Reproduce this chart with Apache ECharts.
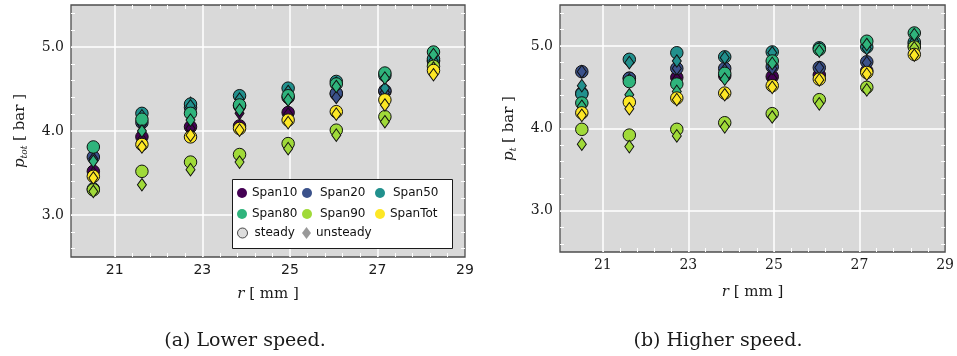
<!DOCTYPE html>
<html>
<head>
<meta charset="utf-8">
<script src="https://cdn.jsdelivr.net/npm/echarts@6/dist/echarts.min.js"></script>
<style>
  html, body { margin: 0; padding: 0; background: #ffffff; }
  #chart { width: 957px; height: 356px; }
</style>
</head>
<body>
<div id="chart"></div>
<script>
// Radial positions r [mm] of the measurement stations
const radius = [20.51, 21.62, 22.73, 23.85, 24.96, 26.06, 27.17, 28.28];

// Tick values
const xTickLabels = [21, 23, 25, 27, 29];
const yTickLabels = [3, 4, 5];

// Lower speed: total pressure p_tot [bar]
const lowSpan10Steady   = [3.52, 3.93, 4.05, 4.06, 4.22, 4.44, 4.47, 4.83];
const lowSpan10Unsteady = [3.50, 3.90, 4.03, 4.21, 4.20, 4.42, 4.44, 4.80];
const lowSpan20Steady   = [3.69, 4.10, 4.28, 4.30, 4.40, 4.45, 4.48, 4.84];
const lowSpan20Unsteady = [3.67, 4.08, 4.33, 4.28, 4.37, 4.40, 4.46, 4.82];
const lowSpan50Steady   = [3.31, 4.21, 4.32, 4.42, 4.51, 4.59, 4.66, 4.86];
const lowSpan50Unsteady = [3.30, 4.18, 4.30, 4.38, 4.47, 4.57, 4.51, 4.84];
const lowSpan80Steady   = [3.81, 4.14, 4.21, 4.31, 4.42, 4.56, 4.69, 4.94];
const lowSpan80Unsteady = [3.64, 4.00, 4.13, 4.25, 4.37, 4.53, 4.63, 4.91];
const lowSpan90Steady   = [3.30, 3.52, 3.63, 3.72, 3.85, 4.01, 4.17, 4.77];
const lowSpan90Unsteady = [3.28, 3.36, 3.54, 3.63, 3.79, 3.95, 4.11, 4.75];
const lowSpanTotSteady   = [3.46, 3.84, 3.93, 4.03, 4.13, 4.23, 4.37, 4.72];
const lowSpanTotUnsteady = [3.44, 3.81, 3.95, 4.01, 4.10, 4.20, 4.31, 4.67];

// Higher speed: total pressure p_t [bar]
const highSpan10Steady   = [4.43, 4.61, 4.62, 4.64, 4.63, 4.65, 4.70, 5.00];
const highSpan10Unsteady = [4.45, 4.59, 4.60, 4.62, 4.61, 4.63, 4.68, 4.98];
const highSpan20Steady   = [4.69, 4.61, 4.73, 4.73, 4.75, 4.74, 4.81, 5.03];
const highSpan20Unsteady = [4.69, 4.59, 4.73, 4.71, 4.73, 4.74, 4.80, 5.02];
const highSpan50Steady   = [4.42, 4.84, 4.92, 4.87, 4.93, 4.98, 4.99, 5.05];
const highSpan50Unsteady = [4.52, 4.80, 4.82, 4.86, 4.92, 4.97, 4.97, 5.06];
const highSpan80Steady   = [4.31, 4.57, 4.54, 4.67, 4.82, 4.96, 5.06, 5.16];
const highSpan80Unsteady = [4.27, 4.41, 4.45, 4.60, 4.79, 4.94, 5.02, 5.14];
const highSpan90Steady   = [3.99, 3.92, 3.99, 4.07, 4.18, 4.35, 4.50, 4.99];
const highSpan90Unsteady = [3.81, 3.78, 3.91, 4.02, 4.14, 4.30, 4.47, 4.98];
const highSpanTotSteady   = [4.19, 4.32, 4.37, 4.43, 4.52, 4.60, 4.68, 4.90];
const highSpanTotUnsteady = [4.16, 4.24, 4.35, 4.41, 4.50, 4.59, 4.66, 4.89];

const spanNames = ['Span10', 'Span20', 'Span50', 'Span80', 'Span90', 'SpanTot'];
const spanColors = ['#440154', '#3b528b', '#21908d', '#2fb47c', '#a0da39', '#fde725'];

const lowSets = [
  [lowSpan10Steady, lowSpan10Unsteady], [lowSpan20Steady, lowSpan20Unsteady],
  [lowSpan50Steady, lowSpan50Unsteady], [lowSpan80Steady, lowSpan80Unsteady],
  [lowSpan90Steady, lowSpan90Unsteady], [lowSpanTotSteady, lowSpanTotUnsteady]
];
const highSets = [
  [highSpan10Steady, highSpan10Unsteady], [highSpan20Steady, highSpan20Unsteady],
  [highSpan50Steady, highSpan50Unsteady], [highSpan80Steady, highSpan80Unsteady],
  [highSpan90Steady, highSpan90Unsteady], [highSpanTotSteady, highSpanTotUnsteady]
];

// minor ticks: 5 subdivisions between the labelled ticks
function minorBetween(majors, step, lo, hi) {
  const out = [];
  const sub = step / 5;
  for (let v = majors[0] - step; v <= majors[majors.length - 1] + step + 1e-9; v += step) {
    for (let k = 1; k < 5; k++) {
      const m = Math.round((v + k * sub) * 1000) / 1000;
      if (m > lo && m < hi) out.push(m);
    }
  }
  return out;
}
const xMinor = minorBetween(xTickLabels, 2, 21, 29);
const yMinor = minorBetween(yTickLabels, 1, 2.5, 5.5);
const xSplit = xTickLabels.filter(v => v < 29);

const SERIF = 'DejaVu Serif';
const SANS = 'DejaVu Sans';
const GRID_BG = '#d9d9d9';
const FRAME = '#4d4d4d';

const grids = [
  { left: 71, top: 5, width: 394, height: 252 },
  { left: 560, top: 5, width: 387, height: 247 }
];

function xAxesFor(g, labelFont, nameGap) {
  const minorTick = (pos) => ({
    gridIndex: g, type: 'value', min: 20, max: 29, position: pos,
    axisLine: { show: false }, axisLabel: { show: false }, splitLine: { show: false },
    axisTick: { show: true, inside: true, length: 4, customValues: xMinor,
      lineStyle: { color: '#ffffff', width: 1 } }
  });
  return [
    {
      gridIndex: g, type: 'value', min: 20, max: 29, position: 'bottom',
      axisLine: { show: false },
      axisTick: { show: true, inside: true, length: 1, customValues: xSplit,
        lineStyle: { color: '#ffffff' } },
      axisLabel: { customValues: xTickLabels, fontFamily: labelFont, fontSize: 14,
        color: '#1a1a1a', margin: 6 },
      splitLine: { show: true, lineStyle: { color: '#ffffff', width: 1.5 } },
      name: '{r|r}{t| [ mm ]}', nameLocation: 'middle', nameGap: nameGap,
      nameTextStyle: { rich: {
        r: { fontFamily: SERIF, fontStyle: 'italic', fontSize: 15, color: '#1a1a1a' },
        t: { fontFamily: SERIF, fontSize: 15, color: '#1a1a1a' }
      } }
    },
    minorTick('bottom'),
    minorTick('top')
  ];
}

function yAxesFor(g, sub, nameGap) {
  const minorTick = (pos) => ({
    gridIndex: g, type: 'value', min: 2.5, max: 5.5, position: pos,
    axisLine: { show: false }, axisLabel: { show: false }, splitLine: { show: false },
    axisTick: { show: true, inside: true, length: 4, customValues: yMinor,
      lineStyle: { color: '#ffffff', width: 1 } }
  });
  return [
    {
      gridIndex: g, type: 'value', min: 2.5, max: 5.5, position: 'left',
      axisLine: { show: false },
      axisTick: { show: true, inside: true, length: 1, customValues: yTickLabels,
        lineStyle: { color: '#ffffff' } },
      axisLabel: { customValues: yTickLabels, fontFamily: SERIF, fontSize: 14,
        color: '#1a1a1a', margin: 7, formatter: v => Number(v).toFixed(1) },
      splitLine: { show: true, lineStyle: { color: '#ffffff', width: 1.5 } },
      name: '{p|p}{s|' + sub + '}{t| [ bar ]}', nameLocation: 'middle', nameRotate: 90,
      nameGap: nameGap,
      nameTextStyle: { rich: {
        p: { fontFamily: SERIF, fontStyle: 'italic', fontSize: 15, color: '#1a1a1a', lineHeight: 18 },
        s: { fontFamily: SERIF, fontStyle: 'italic', fontSize: 9, color: '#1a1a1a',
             lineHeight: 9, verticalAlign: 'bottom' },
        t: { fontFamily: SERIF, fontSize: 15, color: '#1a1a1a', lineHeight: 18 }
      } }
    },
    minorTick('left'),
    minorTick('right')
  ];
}

const xAxis = [].concat(xAxesFor(0, SANS, 30), xAxesFor(1, SERIF, 33));
const yAxis = [].concat(yAxesFor(0, 'tot', 42), yAxesFor(1, 't', 42));

function seriesFor(sets, g) {
  const out = [];
  sets.forEach((pair, i) => {
    const [steady, unsteady] = pair;
    out.push({
      name: spanNames[i], type: 'scatter', xAxisIndex: g * 3, yAxisIndex: g * 3,
      symbol: 'circle', symbolSize: 12.5,
      itemStyle: { color: spanColors[i], borderColor: '#111', borderWidth: 1, opacity: 1 },
      data: radius.map((r, k) => [r, steady[k]]),
      emphasis: { disabled: true }
    });
    out.push({
      name: spanNames[i], type: 'scatter', xAxisIndex: g * 3, yAxisIndex: g * 3,
      symbol: 'diamond', symbolSize: [9, 12.5],
      itemStyle: { color: spanColors[i], borderColor: '#111', borderWidth: 1, opacity: 1 },
      data: radius.map((r, k) => [r, unsteady[k]]),
      emphasis: { disabled: true }
    });
  });
  return out;
}

const series = [].concat(seriesFor(lowSets, 0), seriesFor(highSets, 1));
// legend-only entries for the marker shapes
series.push({ name: 'steady', type: 'scatter', xAxisIndex: 0, yAxisIndex: 0, data: [],
  itemStyle: { color: '#d4d4d4', borderColor: '#222', borderWidth: 1 } });
series.push({ name: 'unsteady', type: 'scatter', xAxisIndex: 0, yAxisIndex: 0, data: [],
  itemStyle: { color: '#7f7f7f' } });

// one legend entry per slot so the columns line up
function legendItem(name, icon, left, centerY, opts) {
  opts = opts || {};
  return {
    show: true, z: 10, padding: 0, left: left, top: centerY - 7,
    itemWidth: opts.w || 10, itemHeight: opts.h || 10, itemGap: 0,
    selectedMode: false,
    data: [{ name: name, icon: icon }],
    itemStyle: opts.itemStyle || { borderWidth: 0 },
    textStyle: { fontFamily: SANS, fontSize: 12, color: '#111', lineHeight: 14,
      padding: [0, 0, 0, opts.textPad || 0] }
  };
}

const rowY = [193, 214, 233];
const legend = [
  legendItem('Span10', 'circle', 237, rowY[0]),
  legendItem('Span20', 'circle', 302, rowY[0], { textPad: 3 }),
  legendItem('Span50', 'circle', 375, rowY[0], { textPad: 3 }),
  legendItem('Span80', 'circle', 237, rowY[1]),
  legendItem('Span90', 'circle', 302, rowY[1], { textPad: 3 }),
  legendItem('SpanTot', 'circle', 375, rowY[1]),
  legendItem('steady', 'circle', 237, rowY[2],
    { itemStyle: { color: '#d4d4d4', borderColor: '#222', borderWidth: 1 }, textPad: 2 }),
  legendItem('unsteady', 'diamond', 302, rowY[2], { w: 9, h: 12,
    itemStyle: { color: '#7f7f7f', borderWidth: 0 } })
];

const chart = echarts.init(document.getElementById('chart'), null, { renderer: 'canvas' });
chart.setOption({
  animation: false,
  backgroundColor: '#ffffff',
  grid: grids.map(g => Object.assign({ show: true, backgroundColor: GRID_BG,
    borderColor: FRAME, borderWidth: 1.3, containLabel: false }, g)),
  xAxis: xAxis,
  yAxis: yAxis,
  legend: legend,
  series: series,
  graphic: {
    elements: [
      { type: 'rect', z: 3, shape: { x: 232.5, y: 179.5, width: 220, height: 69 },
        style: { fill: '#ffffff', stroke: '#1a1a1a', lineWidth: 1 } },
      { type: 'text', x: 245, y: 341, style: { text: '(a) Lower speed.', fill: '#1a1a1a',
        font: '19px "DejaVu Serif"', align: 'center', verticalAlign: 'middle' } },
      { type: 'text', x: 718, y: 341, style: { text: '(b) Higher speed.', fill: '#1a1a1a',
        font: '19px "DejaVu Serif"', align: 'center', verticalAlign: 'middle' } }
    ]
  }
});
</script>
</body>
</html>
